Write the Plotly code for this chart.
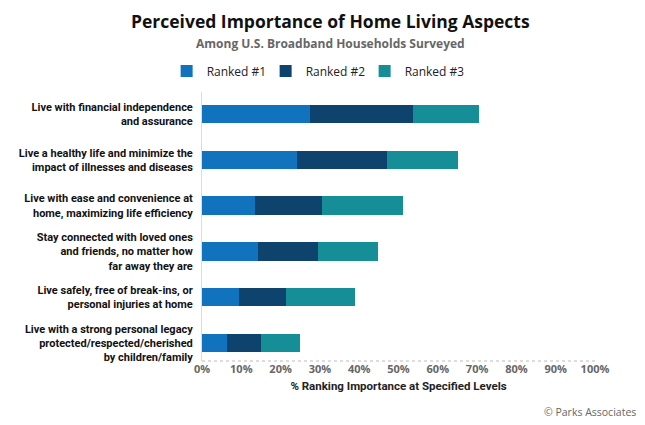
# imports
from plotly.graph_objects import Bar, Figure

# data (% of households)
aspects = [
    "Live with financial independence<br>and assurance",
    "Live a healthy life and minimize the<br>impact of illnesses and diseases",
    "Live with ease and convenience at<br>home, maximizing life efficiency",
    "Stay connected with loved ones<br>and friends, no matter how<br>far away they are",
    "Live safely, free of break-ins, or<br>personal injuries at home",
    "Live with a strong personal legacy<br>protected/respected/cherished<br>by children/family",
]
ranked_1 = [27.5, 24.2, 13.5, 14.3, 9.5, 6.4]
ranked_2 = [26.1, 22.9, 17.1, 15.2, 11.8, 8.5]
ranked_3 = [16.9, 18.1, 20.6, 15.4, 17.6, 10.0]
series_names = ["Ranked #1", "Ranked #2", "Ranked #3"]
x_ticks = [0, 10, 20, 30, 40, 50, 60, 70, 80, 90, 100]
x_tick_labels = [str(v) + "%" for v in x_ticks]

colors = ["#1173bd", "#0e436e", "#168e98"]
label_font = "Roboto"
main_font = "Open Sans"


def make_fig():
    fig = Figure()
    for name, vals, col in zip(series_names, [ranked_1, ranked_2, ranked_3], colors):
        fig.add_trace(Bar(y=aspects, x=vals, name=name, orientation="h",
                          marker=dict(color=col, line=dict(width=0))))

    # page body has an 8px margin, so the figure is 8px smaller than the window
    fig.update_layout(
        width=637, height=417,
        barmode="stack", bargap=0.6,
        paper_bgcolor="white", plot_bgcolor="white",
        margin=dict(l=194, r=50, t=84, b=64, autoexpand=False),
        font=dict(family=main_font, color="#222"),
        showlegend=True,
        legend=dict(orientation="h", x=-0.09, xanchor="left", y=1.078, yanchor="middle",
                    font=dict(size=12, color="#222"),
                    entrywidth=54, entrywidthmode="pixels", traceorder="normal"),
    )
    fig.update_xaxes(range=[0, 100], tickvals=x_ticks, ticktext=x_tick_labels,
                     showgrid=False, zeroline=False, showline=False, ticks="",
                     automargin=False,
                     tickfont=dict(family=main_font, size=11, color="#666", weight="bold"),
                     title=dict(text="% Ranking Importance at Specified Levels",
                                font=dict(family=label_font, size=11.5, color="#222", weight="bold"),
                                standoff=6))
    fig.update_yaxes(range=[5.39, -0.48], showgrid=False, zeroline=False,
                     showline=True, linecolor="#dcdcdc", linewidth=1, ticks="",
                     automargin=False, ticklabelstandoff=6,
                     tickfont=dict(family=label_font, size=11, color="#111", weight="bold"))

    # dotted base line under the bars
    fig.add_shape(type="line", xref="x domain", yref="y domain", x0=0, x1=1, y0=0, y1=0,
                  line=dict(color="#bbb", width=1, dash="dot"))

    fig.add_annotation(text="Perceived Importance of Home Living Aspects", xref="paper", yref="paper",
                       x=0.328, y=1.264, xanchor="center", yanchor="middle", showarrow=False,
                       font=dict(family=main_font, size=17.5, color="#111", weight="bold"))
    fig.add_annotation(text="Among U.S. Broadband Households Surveyed", xref="paper", yref="paper",
                       x=0.326, y=1.182, xanchor="center", yanchor="middle", showarrow=False,
                       font=dict(family=main_font, size=12, color="#666", weight="bold"))
    fig.add_annotation(text="© Parks Associates", xref="paper", yref="paper",
                       x=1.11, y=-0.19, xanchor="right", yanchor="middle", showarrow=False,
                       font=dict(family=main_font, size=10.5, color="#666"))
    return fig


def main():
    fig = make_fig()
    fig.write_html("out.html")


if __name__ == "__main__":
    main()
